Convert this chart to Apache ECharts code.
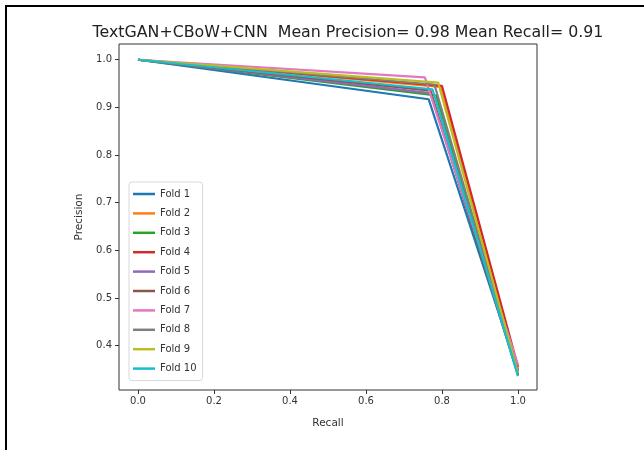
<!DOCTYPE html>
<html>
<head>
<meta charset="utf-8">
<script src="https://cdn.jsdelivr.net/npm/echarts@6/dist/echarts.min.js"></script>
<style>
  html, body { margin: 0; padding: 0; background: #fff; }
  #chart { width: 644px; height: 450px; }
</style>
</head>
<body>
<div id="chart"></div>
<script>
// Precision-recall curves, one per cross-validation fold
const folds = ['Fold 1', 'Fold 2', 'Fold 3', 'Fold 4', 'Fold 5', 'Fold 6', 'Fold 7', 'Fold 8', 'Fold 9', 'Fold 10'];
const recallPoints = [
  [0, 0.765, 1],
  [0, 0.795, 1],
  [0, 0.785, 1],
  [0, 0.800, 1],
  [0, 0.770, 1],
  [0, 0.770, 1],
  [0, 0.755, 1],
  [0, 0.780, 1],
  [0, 0.790, 1],
  [0, 0.775, 1]
];
const precisionPoints = [
  [1, 0.917, 0.345],
  [1, 0.943, 0.350],
  [1, 0.925, 0.340],
  [1, 0.945, 0.355],
  [1, 0.930, 0.348],
  [1, 0.935, 0.338],
  [1, 0.963, 0.360],
  [1, 0.948, 0.345],
  [1, 0.952, 0.342],
  [1, 0.938, 0.336]
];
const xTicks = [0, 0.2, 0.4, 0.6, 0.8, 1.0];
const yTicks = [0.4, 0.5, 0.6, 0.7, 0.8, 0.9, 1.0];
const palette = ['#1f77b4', '#ff7f0e', '#2ca02c', '#d62728', '#9467bd', '#8c564b', '#e377c2', '#7f7f7f', '#bcbd22', '#17becf'];
const titleText = 'TextGAN+CBoW+CNN  Mean Precision= 0.98 Mean Recall= 0.91';

const font = 'DejaVu Sans';
const chart = echarts.init(document.getElementById('chart'), null, { renderer: 'canvas' });

const series = folds.map((name, i) => ({
  name: name,
  type: 'line',
  symbol: 'none',
  data: recallPoints[i].map((r, k) => [r, precisionPoints[i][k]]),
  lineStyle: { width: 2.2, color: palette[i] },
  itemStyle: { color: palette[i] },
  z: 2 + i,
  animation: false
}));

chart.setOption({
  animation: false,
  color: palette,
  title: {
    text: titleText,
    left: 343,
    textAlign: 'center',
    top: 20,
    textStyle: { fontFamily: font, fontSize: 15.8, fontWeight: 'normal', color: '#222' }
  },
  grid: {
    left: 119, top: 44, right: 107, bottom: 60,
    show: true, borderColor: '#333', borderWidth: 1, backgroundColor: '#fff'
  },
  legend: {
    orient: 'vertical',
    left: 129, top: 182,
    icon: 'rect',
    itemWidth: 22, itemHeight: 2.5, itemGap: 7.4,
    padding: [6, 6, 6, 4],
    borderColor: '#d8d8d8', borderWidth: 1, borderRadius: 3,
    backgroundColor: 'rgba(255,255,255,0.8)',
    textStyle: { fontFamily: font, fontSize: 10, lineHeight: 12, color: '#333' },
    data: folds
  },
  xAxis: {
    type: 'value', min: -0.05, max: 1.05,
    name: 'Recall', nameLocation: 'middle', nameGap: 28,
    nameTextStyle: { fontFamily: font, fontSize: 10.5, color: '#333' },
    splitLine: { show: false },
    axisLine: { show: false, onZero: false },
    axisTick: { show: true, inside: false, length: 4, customValues: xTicks, lineStyle: { color: '#333' } },
    axisLabel: {
      customValues: xTicks, fontFamily: font, fontSize: 10, color: '#333', margin: 6,
      formatter: v => v.toFixed(1)
    }
  },
  yAxis: {
    type: 'value', min: 0.307, max: 1.033,
    name: 'Precision', nameLocation: 'middle', nameGap: 27, nameRotate: 90,
    nameTextStyle: { fontFamily: font, fontSize: 10.5, color: '#333' },
    splitLine: { show: false },
    axisLine: { show: false, onZero: false },
    axisTick: { show: true, inside: false, length: 4, customValues: yTicks, lineStyle: { color: '#333' } },
    axisLabel: {
      customValues: yTicks, fontFamily: font, fontSize: 10, color: '#333', margin: 7,
      formatter: v => v.toFixed(1)
    }
  },
  graphic: [
    { type: 'rect', shape: { x: 5, y: 5, width: 644, height: 2 }, style: { fill: '#000' }, silent: true },
    { type: 'rect', shape: { x: 5, y: 5, width: 2, height: 450 }, style: { fill: '#000' }, silent: true }
  ],
  series: series
});
</script>
</body>
</html>
